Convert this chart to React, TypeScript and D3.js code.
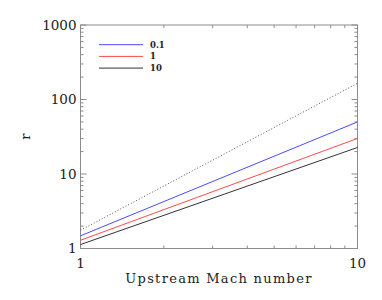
import React from 'react';
import * as d3 from 'd3';

// upstream Mach number at the line ends
const mach = [1, 10];
// r for each legend value
const rLow = [1.48, 50];     // 0.1
const rMid = [1.29, 30];     // 1
const rHigh = [1.13, 22.7];  // 10
const rLimit = [1.76, 165];  // dotted reference line

const legendLabels = ['0.1', '1', '10'];
const legendColors = ['#4a4aff', '#ff4a4a', '#333333'];
const yTickLabels = [1, 10, 100, 1000];
const xTickLabels = [1, 10];

const W = 382;
const H = 300;
const margin = { top: 25, right: 24.5, bottom: 51.5, left: 80.5 };

export default function App() {
  const innerW = W - margin.left - margin.right;
  const innerH = H - margin.top - margin.bottom;

  const x = d3.scaleLog().domain([1, 10]).range([0, innerW]);
  const y = d3.scaleLog().domain([1, 1000]).range([innerH, 0]);

  const line = d3.line<number>()
    .x((_, i) => x(mach[i]))
    .y(d => y(d));

  const series = [rLow, rMid, rHigh];

  // minor + major tick values for the log axes
  const xTicks = x.ticks();
  const yTicks = y.ticks();
  const isMajor = (v: number) => Math.abs(Math.log10(v) - Math.round(Math.log10(v))) < 1e-9;

  const axisColor = '#8c8c8c';
  const font = '"DejaVu Serif", "Liberation Serif", serif';

  return (
    <div style={{ position: 'absolute', left: 0, top: 0 }}>
      <svg width={W} height={H} style={{ display: 'block', background: '#fff' }}>
        <g transform={`translate(${margin.left},${margin.top})`}>
          {/* frame */}
          <rect x={0} y={0} width={innerW} height={innerH} fill="none" stroke={axisColor} strokeWidth={1} />

          {/* x ticks, bottom and top, pointing inward */}
          {xTicks.map(t => {
            const len = isMajor(t) ? 6 : 3;
            return (
              <g key={'x' + t}>
                <line x1={x(t)} x2={x(t)} y1={innerH} y2={innerH - len} stroke={axisColor} />
                <line x1={x(t)} x2={x(t)} y1={0} y2={len} stroke={axisColor} />
              </g>
            );
          })}

          {/* y ticks, left and right */}
          {yTicks.map(t => {
            const len = isMajor(t) ? 6 : 3;
            return (
              <g key={'y' + t}>
                <line x1={0} x2={len} y1={y(t)} y2={y(t)} stroke={axisColor} />
                <line x1={innerW} x2={innerW - len} y1={y(t)} y2={y(t)} stroke={axisColor} />
              </g>
            );
          })}

          {/* y tick labels */}
          {yTickLabels.map(t => (
            <text key={'yl' + t} x={-4} y={y(t)} dy="0.35em" textAnchor="end"
              fontFamily={font} fontSize={13.5} fill="#222">{t}</text>
          ))}

          {/* x tick labels */}
          {xTickLabels.map(t => (
            <text key={'xl' + t} x={x(t)} y={innerH + 19} textAnchor="middle"
              fontFamily={font} fontSize={13.5} fill="#222">{t}</text>
          ))}

          {/* dotted reference */}
          <path d={line(rLimit) || ''} fill="none" stroke="#555" strokeWidth={1} strokeDasharray="1,2" />

          {series.map((s, i) => (
            <path key={'s' + i} d={line(s) || ''} fill="none" stroke={legendColors[i]} strokeWidth={1} />
          ))}

          {/* legend */}
          {legendLabels.map((lab, i) => (
            <g key={'lg' + i} transform={`translate(18.5,${19.7 + i * 11.7})`}>
              <line x1={0} x2={44} y1={0} y2={0} stroke={legendColors[i]} strokeWidth={1} />
              <text x={51} y={0} dy="0.35em" fontFamily={font} fontSize={8.5}
                fontWeight="bold" fill="#222">{lab}</text>
            </g>
          ))}

          {/* axis titles */}
          <text x={innerW / 2} y={innerH + 30} dy="0.35em" textAnchor="middle"
            fontFamily={font} fontSize={13} letterSpacing={1.3} fill="#222">Upstream Mach number</text>
          <text transform={`translate(${-55},${innerH / 2 + 0}) rotate(-90)`} textAnchor="middle"
            dy="0.35em" fontFamily={font} fontSize={13} fill="#222">r</text>
        </g>
      </svg>
    </div>
  );
}
